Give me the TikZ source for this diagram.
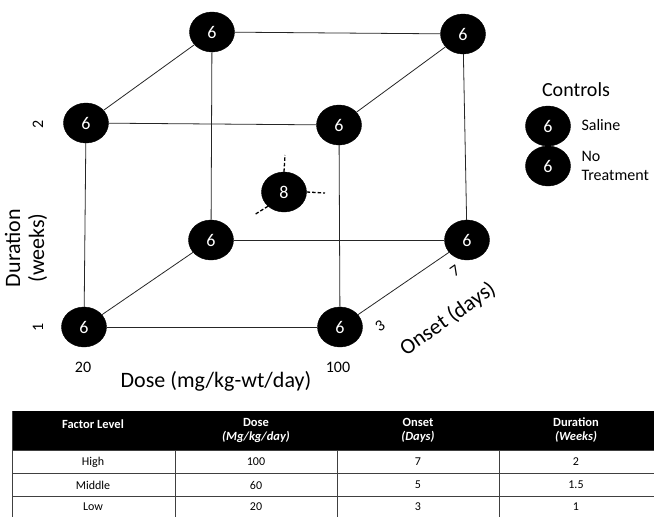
\documentclass[tikz,border=0pt]{standalone}
\usepackage{fontspec}
\setmainfont{Carlito}
\usetikzlibrary{shapes.geometric}
\begin{document}
\begin{tikzpicture}[x=1pt,y=-1pt,
  grp/.style={ellipse,fill=black,draw=black,minimum width=45pt,minimum height=40pt,inner sep=0pt,text=white,font=\fontsize{18}{18}\selectfont},
  edge/.style={draw=black!85,line width=0.8pt},
  stub/.style={draw=black,line width=1.3pt,dash pattern=on 3.5pt off 2pt},
  axis/.style={font=\fontsize{22}{24}\selectfont},
  tick/.style={font=\fontsize{16}{16}\selectfont},
  hdr/.style={text=white,font=\fontsize{12.5}{14}\selectfont\bfseries,align=center},
  cell/.style={font=\fontsize{12}{13}\selectfont},
  rule/.style={draw=black!75,line width=0.9pt}]
\useasboundingbox (0,0) rectangle (654,517);
% cube nodes
\node[grp] (tbl) at (212,32) {6};
\node[grp] (tbr) at (463,34) {6};
\node[grp] (tfl) at (86,123) {6};
\node[grp] (tfr) at (339,125) {6};
\node[grp] (bbl) at (211,240) {6};
\node[grp] (bbr) at (467,240) {6};
\node[grp] (bfl) at (84,327) {6};
\node[grp] (bfr) at (340,327) {6};
\node[grp] (ctr) at (284,192) {8};
% edges
\draw[edge] (tfl) -- (tfr);
\draw[edge] (tfl) -- (bfl);
\draw[edge] (bfl) -- (bfr);
\draw[edge] (tfr) -- (bfr);
\draw[edge] (tbl) -- (tbr);
\draw[edge] (tbl) -- (bbl);
\draw[edge] (bbl) -- (bbr);
\draw[edge] (tbr) -- (bbr);
\draw[edge] (tfl) -- (tbl);
\draw[edge] (tfr) -- (tbr);
\draw[edge] (bfl) -- (bbl);
\draw[edge] (bfr) -- (bbr);
% center stubs
\coordinate (s1) at (285,155);
\coordinate (s2) at (325,193);
\coordinate (s3) at (254,215);
\draw[stub] (ctr.north) -- (s1);
\draw[stub] (ctr.east) -- (s2);
\draw[stub] (ctr.south west) -- (s3);
% axis labels
\node[tick,rotate=90] (t2) at (38,124) {2};
\node[tick,rotate=90] (t1) at (38,327) {1};
\node[axis,rotate=90,align=center] (dur) at (26,248) {Duration\\(weeks)};
\node[tick] (t20) at (83,367) {20};
\node[tick] (t100) at (338,367) {100};
\node[axis] (dose) at (216,381) {Dose (mg/kg-wt/day)};
\node[tick,rotate=35,inner sep=0pt] (t3) at (380,326) {3};
\node[tick,rotate=35,inner sep=0pt] (t7) at (455,271) {7};
\node[axis,rotate=35,inner sep=0pt] (onset) at (448,319) {Onset (days)};
% controls
\node[font=\fontsize{20}{21}\selectfont] (ctl) at (576,90) {Controls};
\node[grp] (cs) at (548,126) {6};
\node[grp] (cn) at (548,166) {6};
\node[font=\fontsize{16}{17}\selectfont,anchor=west] (sal) at (578,125) {Saline};
\node[font=\fontsize{16}{19}\selectfont,anchor=west,align=left] (not) at (578,166) {No\\Treatment};
% table
\fill[black] (12,411) rectangle (654,450);
\draw[rule] (12,411) -- (12,517);
\draw[rule] (12,450) -- (654,450);
\draw[rule] (12,473) -- (654,473);
\draw[rule] (12,496) -- (654,496);
\draw[rule] (175,450) -- (175,517);
\draw[rule] (337,450) -- (337,517);
\draw[rule] (499,450) -- (499,517);
\node[hdr] (h1) at (93,424) {Factor Level};
\node[hdr] (h2) at (256,430) {Dose\\\itshape (Mg/kg/day)};
\node[hdr] (h3) at (418,430) {Onset\\\itshape (Days)};
\node[hdr] (h4) at (576,430) {Duration\\\itshape (Weeks)};
\node[cell] (r11) at (93,462) {High};
\node[cell] (r12) at (256,462) {100};
\node[cell] (r13) at (418,462) {7};
\node[cell] (r14) at (576,462) {2};
\node[cell] (r21) at (93,485) {Middle};
\node[cell] (r22) at (256,485) {60};
\node[cell] (r23) at (418,485) {5};
\node[cell] (r24) at (576,485) {1.5};
\node[cell] (r31) at (93,507) {Low};
\node[cell] (r32) at (256,507) {20};
\node[cell] (r33) at (418,507) {3};
\node[cell] (r34) at (576,507) {1};
\end{tikzpicture}
\end{document}
